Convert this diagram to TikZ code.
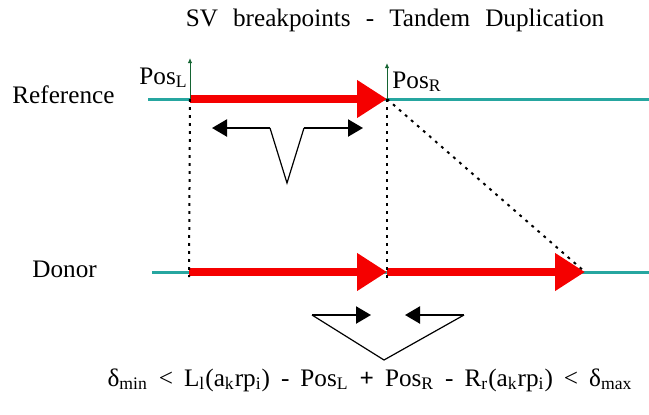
\documentclass[tikz,border=0pt]{standalone}
\usepackage{fontspec}
\setmainfont{Liberation Serif}
\newfontfamily\widefont[WordSpace=2.4]{Liberation Serif}
\usetikzlibrary{arrows.meta}
\definecolor{chrom}{RGB}{38,166,160}
\definecolor{segred}{RGB}{245,0,0}
\definecolor{markgreen}{RGB}{20,100,50}
\newcommand\fgap{\hspace{5.5pt}}

\begin{document}
\begin{tikzpicture}[x=0.5pt,y=-0.5pt,
	every node/.style={inner sep=0pt,font=\fontsize{12.6}{15}\selectfont},
	chromline/.style={chrom,line width=1.5pt},
	segment/.style={segred,line width=4pt,-{Triangle[length=15pt,width=18pt]}},
	breakline/.style={black,line width=1pt,dash pattern=on 1.4pt off 2.6pt},
	marker/.style={markgreen,line width=0.5pt,-{Latex[length=2.5pt,width=2.2pt]}},
	readarrow/.style={black,line width=1.1pt,-{Triangle[length=7.5pt,width=8.5pt]}},
	vline/.style={black,line width=0.6pt}]
\useasboundingbox (0,0) rectangle (649,414);
\coordinate (refA) at (148,99);
\coordinate (refB) at (649,99);
\coordinate (donA) at (152,272);
\coordinate (donB) at (649,272);
\coordinate (refL) at (190,99);
\coordinate (refR) at (387,99);
\coordinate (donL) at (189,272);
\coordinate (donM) at (387,272);
\coordinate (donR) at (585,272);
\coordinate (lowL) at (189,277);
\coordinate (lowR) at (387,279);
\coordinate (topL) at (190,58);
\coordinate (topR) at (387,63);
% labels
\node[anchor=base] (title) at (395,26) {\widefont SV breakpoints - Tandem Duplication};
\node[anchor=base west] (ref) at (12,103) {Reference};
\node[anchor=base west] (don) at (32,277) {Donor};
% chromosomes
\draw[chromline] (refA) -- (refB);
\draw[chromline] (donA) -- (donB);
\draw[segment] (refL) -- (refR);
\draw[segment] (donL) -- (donM);
\draw[segment] (donM) -- (donR);
\draw[breakline] (refL) -- (lowL);
\draw[breakline] (refR) -- (lowR);
\draw[breakline] (refR) -- (donR);
\draw[marker] (refL) -- (topL);
\draw[marker] (refR) -- (topR);
\node[anchor=base east] (posL) at (188,84) {Pos\textsubscript{L}};
\node[anchor=base west] (posR) at (392,88) {Pos\textsubscript{R}};
% read pair on the reference
\coordinate (p1) at (212,128);
\coordinate (p2) at (270,128);
\coordinate (p3) at (287,183);
\coordinate (p4) at (304,128);
\coordinate (p5) at (363,128);
\draw[readarrow] (p2) -- (p1);
\draw[readarrow] (p4) -- (p5);
\draw[vline] (p2) -- (p3) -- (p4);
% read pair on the donor
\coordinate (q1) at (312,315);
\coordinate (q2) at (371,315);
\coordinate (q3) at (405,315);
\coordinate (q4) at (464,315);
\coordinate (qv) at (384,360);
\draw[readarrow] (q1) -- (q2);
\draw[readarrow] (q4) -- (q3);
\draw[vline] (q1) -- (qv) -- (q4);
\node[anchor=base] (cond) at (370,386) {δ\textsubscript{min}\fgap<\fgap L\textsubscript{l}(a\textsubscript{k}rp\textsubscript{i})\fgap-\fgap Pos\textsubscript{L}\fgap\textbf{+}\fgap Pos\textsubscript{R}\fgap-\fgap R\textsubscript{r}(a\textsubscript{k}rp\textsubscript{i})\fgap<\fgap δ\textsubscript{max}};
\end{tikzpicture}
\end{document}
